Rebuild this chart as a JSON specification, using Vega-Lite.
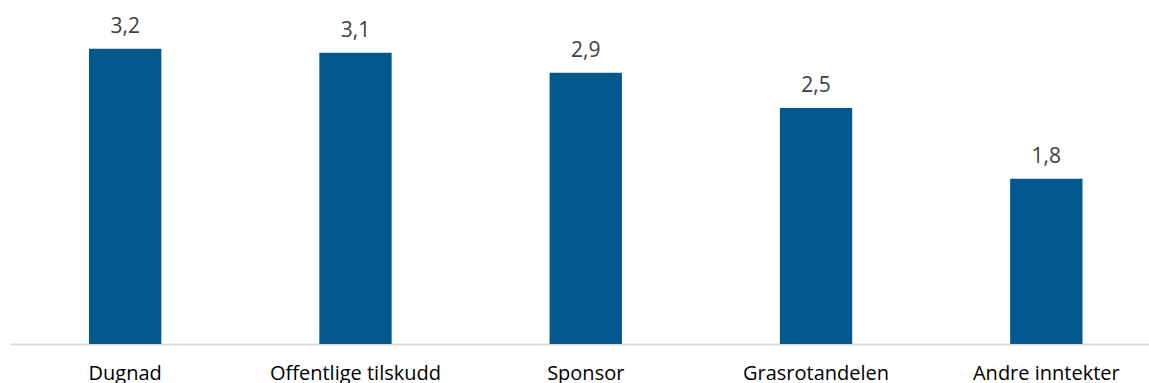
{
  "$schema": "https://vega.github.io/schema/vega-lite/v6.json",
  "width": 1139,
  "height": 344,
  "autosize": {"type": "none"},
  "padding": {"left": 10, "top": 0, "right": 0, "bottom": 39},
  "config": {
    "view": {"stroke": null},
    "locale": {"number": {"decimal": ",", "thousands": "\u00a0", "grouping": [3], "currency": ["", " kr"]}}
  },
  "data": {
    "values": [
      {"kategori": "Dugnad", "verdi": 3.176},
      {"kategori": "Offentlige tilskudd", "verdi": 3.133},
      {"kategori": "Sponsor", "verdi": 2.918},
      {"kategori": "Grasrotandelen", "verdi": 2.538},
      {"kategori": "Andre inntekter", "verdi": 1.778}
    ]
  },
  "encoding": {
    "x": {
      "field": "kategori",
      "type": "nominal",
      "sort": null,
      "scale": {"paddingInner": 0.686, "paddingOuter": 0.316, "align": 0.543},
      "axis": {
        "title": null,
        "labelAngle": 0,
        "domainColor": "#d9d9d9",
        "domainWidth": 2,
        "ticks": false,
        "labelBaseline": "alphabetic",
        "labelPadding": 35,
        "labelFont": "Open Sans",
        "labelFontSize": 20,
        "labelColor": "#000000"
      }
    },
    "y": {
      "field": "verdi",
      "type": "quantitative",
      "scale": {"domain": [0, 3.7], "nice": false, "zero": true},
      "axis": null
    }
  },
  "layer": [
    {"mark": {"type": "bar", "color": "#00588C"}},
    {
      "mark": {"type": "text", "baseline": "alphabetic", "dy": -16, "font": "Open Sans", "fontSize": 21, "color": "#404040"},
      "encoding": {"text": {"field": "verdi", "type": "quantitative", "format": ".1f"}}
    }
  ]
}
